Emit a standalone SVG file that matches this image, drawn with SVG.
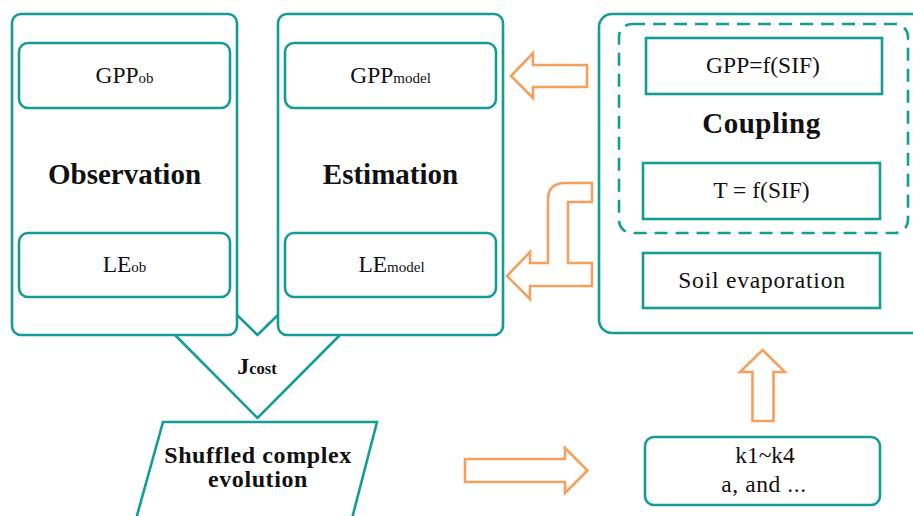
<svg xmlns="http://www.w3.org/2000/svg" width="913" height="516" viewBox="0 0 913 516">
<style>
.box{fill:#fff;stroke:#149c96;stroke-width:2.6}
.line{fill:none;stroke:#149c96;stroke-width:2.6;stroke-linejoin:miter}
.dash{fill:none;stroke:#149c96;stroke-width:2.6;stroke-dasharray:13 8}
.arr{fill:#fff;stroke:#f4a15d;stroke-width:2.6;stroke-linejoin:miter}
text{fill:#111;text-anchor:middle}
.r{font-size:23.5px}
.b{font-size:29px;font-weight:bold}
.sub{font-size:15px}
</style>
<rect width="913" height="516" fill="#fff"/>
<g id="connectors">
  <polyline class="line" points="175,335 257.5,418 340,335"/>
  <polyline class="line" points="237,315 257.5,335 278,315"/>
  <path class="arr" d="M511,76 L533,53 L533,65 L587,65 L587,87 L533,87 L533,98 Z"/>
  <path class="arr" d="M592,183 L565,183 Q548,183 548,200 L548,263 L530,263 L530,252 L507,276 L530,299 L530,286 L592,286 L592,263 L568,263 L568,202 L592,202 Z"/>
  <path class="arr" d="M465,459 L565,459 L565,448 L587.5,470.5 L565,493 L565,482 L465,482 Z"/>
  <path class="arr" d="M762.5,350 L785,372 L773.5,372 L773.5,421 L752.5,421 L752.5,372 L740,372 Z"/>
</g>
<g font-family="Liberation Serif, serif">
<g id="observation">
  <rect class="box" x="12" y="14" width="225" height="321" rx="9"/>
  <text class="b" x="124.5" y="184" font-family="Liberation Serif, serif">Observation</text>
</g>
<g id="gpp-ob">
  <rect class="box" x="19" y="43" width="211" height="65" rx="9"/>
  <text class="r" x="124.5" y="83" font-family="Liberation Serif, serif">GPP<tspan class="sub">ob</tspan></text>
</g>
<g id="le-ob">
  <rect class="box" x="19" y="233" width="211" height="64" rx="9"/>
  <text class="r" x="124.5" y="272" font-family="Liberation Serif, serif">LE<tspan class="sub">ob</tspan></text>
</g>
<g id="estimation">
  <rect class="box" x="278" y="14" width="225" height="321" rx="9"/>
  <text class="b" x="390.5" y="184" font-family="Liberation Serif, serif">Estimation</text>
</g>
<g id="gpp-model">
  <rect class="box" x="285" y="43" width="211" height="65" rx="9"/>
  <text class="r" x="390.5" y="83" font-family="Liberation Serif, serif">GPP<tspan class="sub">model</tspan></text>
</g>
<g id="le-model">
  <rect class="box" x="285" y="233" width="211" height="64" rx="9"/>
  <text class="r" x="391.5" y="272" font-family="Liberation Serif, serif">LE<tspan class="sub">model</tspan></text>
</g>
<g id="model">
  <rect class="box" x="599" y="14" width="340" height="319" rx="13"/>
</g>
<g id="coupling">
  <rect class="dash" x="619" y="24" width="289" height="209" rx="13"/>
  <text class="b" x="761.5" y="133" font-family="Liberation Serif, serif" letter-spacing="0.5">Coupling</text>
</g>
<g id="gpp-sif">
  <rect class="box" x="646" y="38" width="236" height="56"/>
  <text class="r" x="763" y="73" font-family="Liberation Serif, serif">GPP=f(SIF)</text>
</g>
<g id="t-sif">
  <rect class="box" x="643" y="163" width="237" height="56"/>
  <text class="r" x="761.5" y="198" font-family="Liberation Serif, serif">T = f(SIF)</text>
</g>
<g id="soil">
  <rect class="box" x="643" y="253" width="237" height="55"/>
  <text class="r" x="762" y="288" font-family="Liberation Serif, serif" letter-spacing="0.8">Soil evaporation</text>
</g>
<g id="jcost">
  <text x="257" y="374" font-family="Liberation Serif, serif" style="font-weight:bold;font-size:24px">J<tspan style="font-size:16.5px">cost</tspan></text>
</g>
<g id="sce">
  <polygon class="box" points="163,422 377,422 349,530 133,530"/>
  <text class="b" style="font-size:24px" x="258" y="463" font-family="Liberation Serif, serif" letter-spacing="0.6">Shuffled complex</text>
  <text class="b" style="font-size:24px" x="258" y="487" font-family="Liberation Serif, serif" letter-spacing="0.6">evolution</text>
</g>
<g id="params">
  <rect class="box" x="645" y="437" width="235" height="68" rx="9"/>
  <text class="r" x="765" y="463" font-family="Liberation Serif, serif">k1~k4</text>
  <text class="r" x="764" y="492" font-family="Liberation Serif, serif" letter-spacing="0.6">a, and ...</text>
</g>
</g>
</svg>
